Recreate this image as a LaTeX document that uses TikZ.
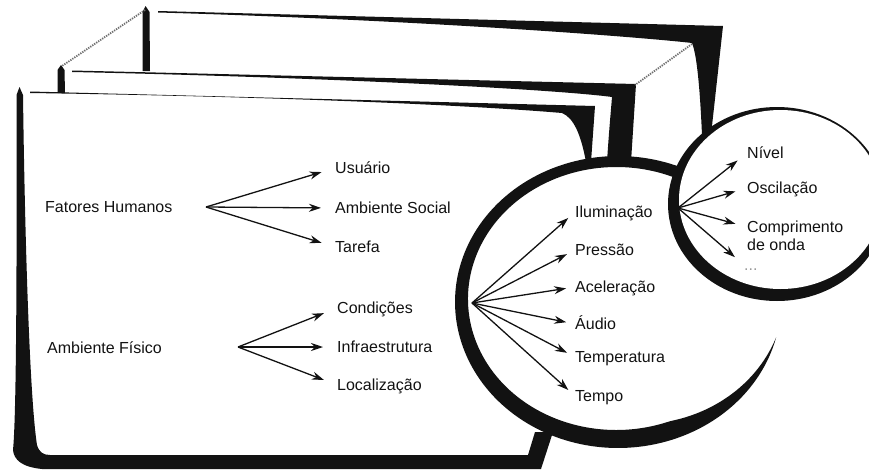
\documentclass[tikz,border=0pt]{standalone}
\usepackage{fontspec}
\setmainfont{Liberation Sans}
\usepackage{tikz}
\usetikzlibrary{arrows.meta}
\definecolor{ink}{HTML}{121212}
\definecolor{seam}{HTML}{6E6E6E}
\newcommand{\lblfont}{\fontsize{16}{18}\selectfont}
\tikzset{
  cut/.style={draw=seam, line width=1.8pt, dash pattern=on 1.3pt off 1.1pt},
  lbl/.style={anchor=west, inner sep=0pt, font=\lblfont, text=ink, text height=11.5pt, text depth=0pt},
  arr/.style={-{Stealth[length=12pt, width=8pt]}, line width=1.3pt, draw=ink, shorten >=#1},
  arr/.default=14pt
}

\begin{document}
\begin{tikzpicture}[x=1pt, y=-1pt]
\useasboundingbox (0,0) rectangle (869,471);

\fill[ink] (145.5,6) -- (149.5,12) -- (150,71) -- (142.5,71) -- (142.5,12) -- cycle;
\fill[ink] (158,11) -- (723,26) -- (711,135) -- (702,135) .. controls (700,90) and (697,55) .. (692,43) .. controls (640,37) and (420,20) .. (158,12.5) -- cycle;
\fill[ink] (61,65) -- (64.5,70) -- (65,93) -- (57.5,93) -- (57.5,70) -- cycle;
\fill[ink] (72,70.5) -- (636,84) -- (631,162) -- (607,162) .. controls (609,130) and (611,110) .. (612,97) .. controls (560,90) and (350,78) .. (72,72) -- cycle;
\fill[ink] (30,91.5) -- (595,106) -- (591,162) -- (586,162) .. controls (581,135) and (574,118) .. (562,113) .. controls (480,106) and (300,97) .. (30,93) -- cycle;
\fill[ink] (19.5,87) -- (23,95) .. controls (25,250) and (30,400) .. (37,445) .. controls (39,452) and (43,455) .. (50,455) -- (528,455) -- (535,432) -- (553,432) -- (541,469) -- (42,469) .. controls (22,467) and (14,460) .. (13,450) .. controls (16,420) and (17,300) .. (16.5,95) -- cycle;
\draw[cut] (145,10) -- (62,66);
\draw[cut] (692,44) -- (635,85);

\fill[ink] plot[domain=65:346, samples=140] ({618+163*cos(-\x)}, {302+146*sin(-\x)})
  -- plot[domain=346:65, samples=140] ({618+(163-(14.5+1.5*cos(\x)-3.5*sin(\x))*min(1,(346-\x)/55))*cos(-\x)}, {302+(146-(14.5+1.5*cos(\x)-3.5*sin(\x))*min(1,(346-\x)/55))*sin(-\x)}) -- cycle;
\fill[ink] (777,204) ellipse [x radius=109, y radius=97];
\fill[white] (780.5,199.5) ellipse [x radius=101.5, y radius=89.5];

\node[lbl] (fh) at (45,207) {Fatores Humanos};
\node[lbl] (af) at (47,348) {Ambiente Físico};
\coordinate (fhhub) at (206,207);
\coordinate (afhub) at (238,347);
\coordinate (bighub) at (472,303);
\coordinate (smallhub) at (678,208);

\foreach \n/\y/\t in {usu/168/Usuário, soc/208/Ambiente Social, tar/247/Tarefa} {
  \node[lbl] (\n) at (335,\y) {\t};
  \draw[arr] (fhhub) -- (\n.west);
}
\foreach \n/\y/\t in {cond/308/Condições, infra/347/Infraestrutura, loc/385/Localização} {
  \node[lbl] (\n) at (337,\y) {\t};
  \draw[arr] (afhub) -- (\n.west);
}
\foreach \n/\y/\t in {ilu/212/Iluminação, pre/250/Pressão, ace/287/Aceleração, aud/324/Áudio, temp/357/Temperatura, tpo/396/Tempo} {
  \node[lbl] (\n) at (575,\y) {\t};
  \draw[arr=9pt] (bighub) -- (\n.west);
}
\foreach \n/\y/\t in {niv/153/Nível, osc/188/Oscilação} {
  \node[lbl] (\n) at (747,\y) {\t};
  \draw[arr=12pt] (smallhub) -- (\n.west);
}
\node[lbl] (comp) at (747,227) {\begin{tabular}[t]{@{}l@{}}Comprimento\\de onda\end{tabular}};
\draw[arr=12pt] (smallhub) -- (comp.west);
\node[lbl, text=black!40] (etc) at (744,265) {...};
\draw[arr=12pt] (smallhub) -- (etc.west);
\end{tikzpicture}
\end{document}
